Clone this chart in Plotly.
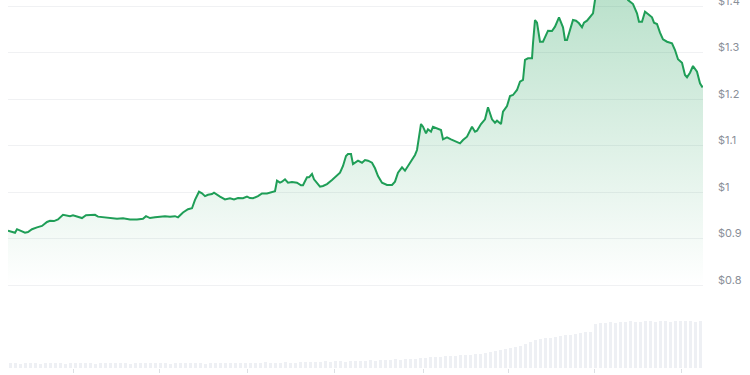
import plotly.graph_objects as go

# ---- data ----
days = [0, 7, 9, 13, 17, 20, 24, 29, 34, 39, 42, 46, 50, 55, 59, 62, 65, 69, 74, 78,
        83, 87, 90, 95, 102, 109, 115, 122, 129, 135, 138, 142, 147, 152, 157, 162, 167, 170, 175, 180,
        184, 187, 191, 194, 197, 200, 204, 206, 209, 212, 217, 222, 226, 230, 235, 239, 242, 245, 250, 254,
        259, 264, 267, 269, 272, 274, 277, 280, 284, 289, 293, 295, 299, 301, 304, 306, 309, 312, 315, 319,
        324, 329, 332, 335, 338, 340, 343, 345, 350, 354, 357, 360, 364, 367, 370, 374, 379, 384, 387, 390,
        394, 397, 400, 404, 407, 409, 413, 415, 418, 420, 423, 425, 429, 433, 435, 439, 443, 446, 449, 452,
        455, 459, 464, 467, 469, 473, 477, 480, 484, 487, 489, 493, 495, 499, 502, 505, 509, 512, 515, 517,
        520, 524, 525, 527, 529, 532, 535, 537, 540, 544, 547, 551, 555, 557, 559, 562, 565, 568, 571, 574,
        576, 579, 582, 585, 587, 591, 597, 603, 609, 615, 620, 625, 629, 631, 634, 637, 640, 644, 646, 649,
        652, 655, 659, 664, 667, 670, 674, 677, 679, 682, 685, 689, 692, 694, 695]

prices = [0.917, 0.9125, 0.920, 0.9155, 0.9125, 0.914, 0.920, 0.924, 0.927, 0.9355, 0.938, 0.9375, 0.941, 0.951, 0.950, 0.948, 0.950, 0.947, 0.944, 0.950,
          0.951, 0.951, 0.947, 0.9455, 0.944, 0.9425, 0.9435, 0.941, 0.941, 0.9425, 0.948, 0.944, 0.9455, 0.947, 0.948, 0.947, 0.948, 0.9455, 0.956, 0.963,
          0.965, 0.983, 1.0006, 0.997, 0.991, 0.994, 0.9957, 0.9985, 0.994, 0.990, 0.984, 0.9865, 0.984, 0.987, 0.9865, 0.990, 0.987, 0.9865, 0.991, 0.997,
          0.997, 1.000, 1.0015, 1.0243, 1.020, 1.022, 1.0273, 1.020, 1.0215, 1.020, 1.0144, 1.0144, 1.0316, 1.0316, 1.0387, 1.0273, 1.020, 1.0114, 1.013, 1.017,
          1.0258, 1.0344, 1.0415, 1.056, 1.0774, 1.0817, 1.0817, 1.060, 1.0673, 1.063, 1.0688, 1.0673, 1.063, 1.051, 1.0344, 1.020, 1.015, 1.015, 1.0222, 1.0415,
          1.0531, 1.0458, 1.056, 1.0688, 1.0796, 1.0903, 1.1462, 1.1404, 1.1262, 1.1348, 1.1297, 1.1404, 1.1376, 1.1333, 1.1133, 1.1176, 1.1133, 1.1103, 1.1075, 1.1047,
          1.1118, 1.1189, 1.1404, 1.1297, 1.1318, 1.1462, 1.1563, 1.1822, 1.1563, 1.149, 1.1533, 1.1462, 1.1727, 1.1849, 1.2065, 1.2086, 1.2194, 1.2372, 1.2409, 1.2839,
          1.2875, 1.2875, 1.3198, 1.3699, 1.3641, 1.3232, 1.3232, 1.3327, 1.3469, 1.3462, 1.3555, 1.3757, 1.3542, 1.3269, 1.3269, 1.3484, 1.3699, 1.3684, 1.3628, 1.3542,
          1.3641, 1.3684, 1.3757, 1.3843, 1.4129, 1.430, 1.440, 1.425, 1.445, 1.430, 1.4129, 1.4043, 1.3843, 1.3662, 1.3662, 1.3877, 1.3828, 1.3757, 1.3641, 1.3613,
          1.3426, 1.3284, 1.3232, 1.3198, 1.3054, 1.2854, 1.2781, 1.2516, 1.2467, 1.2566, 1.271, 1.2587, 1.2338, 1.2265, 1.228]

volume_days = [5 * i + 2.5 for i in range(140)]
volumes = [5, 5, 4, 5, 5, 5, 4, 5, 5, 5, 5, 4, 5, 5, 5, 5, 5, 4, 5, 5,
           5, 5, 5, 5, 4, 5, 5, 5, 5, 5, 5, 5, 4, 5, 5, 5, 5, 5, 5, 4,
           5, 5, 5, 5, 5, 5, 5, 5, 5, 5, 5, 6, 5, 5, 5, 6, 5, 5, 6, 6,
           6, 6, 6, 7, 6, 7, 7, 6, 7, 7, 7, 7, 8, 7,
           8, 8, 8, 9, 8, 9, 9, 9, 10,
           10, 11, 11, 11, 12, 12, 12, 13, 13, 13, 14, 14, 15, 16,
           17, 18, 19, 20, 21, 22, 24, 26,
           28, 29, 30, 30, 31, 32, 33, 33, 34, 35, 36, 36,
           44, 45, 45, 46, 45, 46, 46, 47, 46, 46, 47, 47, 46, 47, 47, 46, 47, 47, 47, 47, 46, 47, 47]

price_ticks = [0.8, 0.9, 1.0, 1.1, 1.2, 1.3, 1.4]
price_tick_labels = ["$0.8", "$0.9", "$1", "$1.1", "$1.2", "$1.3", "$1.4"]
time_ticks = [65, 151, 239, 326, 415, 500, 586, 673]

GREEN = "#1f9e57"
LABEL_COLOR = "#8a8f98"

fig = go.Figure()

fig.add_trace(go.Bar(
    x=volume_days, y=volumes, width=3.6,
    marker=dict(color="#eef0f4", line=dict(width=0)),
    yaxis="y2", hoverinfo="skip", showlegend=False,
))

fig.add_trace(go.Scatter(
    x=days, y=prices, mode="lines",
    line=dict(color=GREEN, width=2),
    fill="tozeroy",
    fillgradient=dict(
        type="vertical",
        start=0.80, stop=1.41,
        colorscale=[[0, "rgba(31,158,87,0)"], [1, "rgba(31,158,87,0.30)"]],
    ),
    showlegend=False,
))

# top tick label sits at the very edge of the axis range; place it as text
fig.add_annotation(
    xref="paper", x=1, xanchor="left", xshift=13,
    yref="y", y=price_ticks[-1], yanchor="middle", yshift=5,
    text=price_tick_labels[-1], showarrow=False,
    font=dict(family="Inter, Roboto, sans-serif", size=11, color=LABEL_COLOR),
)

fig.update_layout(
    width=750, height=375,
    margin=dict(l=8, r=47, t=0, b=7),
    paper_bgcolor="white", plot_bgcolor="white",
    font=dict(family="Inter, Roboto, sans-serif", size=11, color=LABEL_COLOR),
    xaxis=dict(
        range=[0, 695], showgrid=False, zeroline=False, showline=False,
        tickvals=time_ticks, ticks="outside", ticklen=4, tickcolor="#dcdfe3",
        showticklabels=False,
    ),
    yaxis=dict(
        range=[0.6215, 1.4129], side="right",
        tickvals=price_ticks, ticktext=price_tick_labels,
        showgrid=True, gridcolor="#f0f1f3", gridwidth=1,
        zeroline=False, showline=False, ticks="",
        ticklabelstandoff=14, ticklabelshift=-5,
    ),
    yaxis2=dict(
        range=[0, 368], overlaying="y", visible=False,
    ),
    bargap=0,
)

fig.write_html("out.html")
